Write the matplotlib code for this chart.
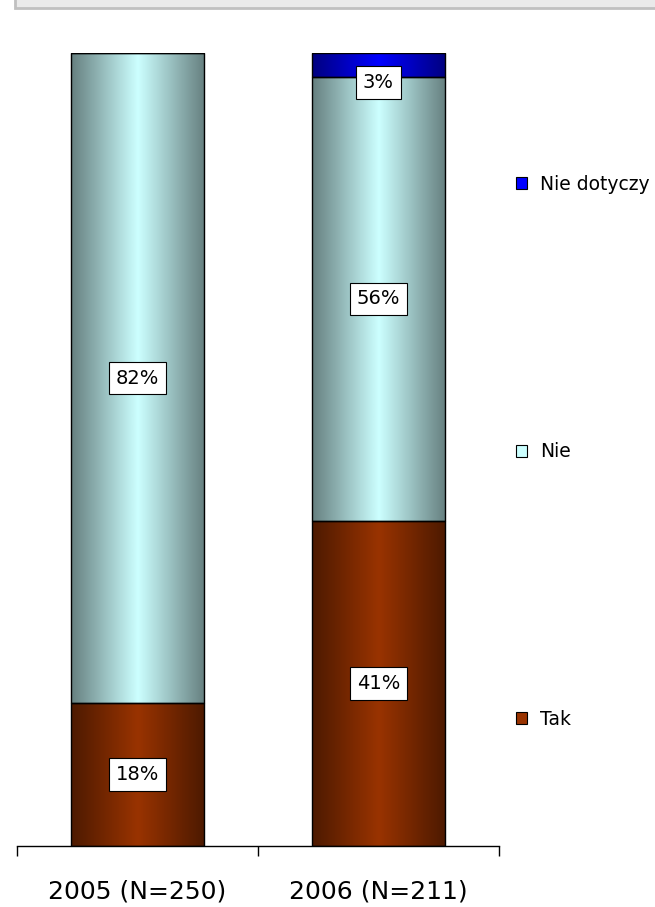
import numpy as np
import matplotlib.pyplot as plt
from matplotlib.patches import Patch, Rectangle
from matplotlib.colors import LinearSegmentedColormap, to_rgb

categories = ['2005 (N=250)', '2006 (N=211)']
series_names = ['Tak', 'Nie', 'Nie dotyczy']
tak = [18, 41]
nie = [82, 56]
nie_dotyczy = [0, 3]
series_values = [tak, nie, nie_dotyczy]
series_colors = ['#993300', '#CCFFFF', '#0000FF']

W, H = 655, 907
fig = plt.figure(figsize=(W / 100, H / 100), dpi=100)
ax = fig.add_axes([17 / W, 61 / H, 482 / W, 793 / H])

# grey header strip across the top
fig.add_artist(Rectangle((15 / W, 899 / H), 1.0, 0.02, transform=fig.transFigure,
                         facecolor='#EAEAEA', edgecolor='#C0C0C0', lw=2))

x = np.arange(len(categories))
bar_w = 0.556
grad = 1 - np.abs(np.linspace(-1, 1, 256))
grad = grad.reshape(1, -1)

bottom = np.zeros(len(categories))
for name, vals, col in zip(series_names, series_values, series_colors):
    vals = np.array(vals, dtype=float)
    base = np.array(to_rgb(col))
    cmap = LinearSegmentedColormap.from_list(name, [base * 0.5, base])
    bars = ax.bar(x, vals, bar_w, bottom=bottom, facecolor='none',
                  edgecolor='black', lw=1, zorder=3)
    for b, v, b0 in zip(bars, vals, bottom):
        if v <= 0:
            continue
        ax.imshow(grad, cmap=cmap, aspect='auto', zorder=2,
                  extent=[b.get_x(), b.get_x() + b.get_width(), b0, b0 + v])
        ly = min(b0 + v / 2, b0 + v - 3.7)
        ax.text(b.get_x() + b.get_width() / 2, ly, f'{v:.0f}%', ha='center',
                va='center', fontsize=14, zorder=5,
                bbox=dict(boxstyle='square,pad=0.35', facecolor='white',
                          edgecolor='black', lw=0.8))
    bottom = bottom + vals

ax.set_xlim(-0.5, len(categories) - 0.5)
ax.set_ylim(0, 100)
ax.set_yticks([])
for s in ['left', 'right', 'top']:
    ax.spines[s].set_visible(False)
ax.spines['bottom'].set_linewidth(1)

ax.set_xticks(np.arange(len(categories) + 1) - 0.5)
ax.set_xticklabels([])
ax.tick_params(axis='x', which='major', length=7.5, width=1, direction='out')
ax.set_xticks(x, minor=True)
ax.set_xticklabels(categories, minor=True, fontsize=18)
ax.tick_params(axis='x', which='minor', length=0, pad=24)

handles = [Patch(facecolor=c, edgecolor='black', lw=0.8, label=n)
           for n, c in zip(series_names, series_colors)][::-1]
fig.legend(handles=handles, loc='upper left', bbox_to_anchor=(516 / W, 1 - 175 / H),
           frameon=False, fontsize=13.5, labelspacing=13.25, handlelength=0.6,
           handleheight=0.6, handletextpad=0.7, borderaxespad=0, borderpad=0)

fig.savefig('out.png', dpi=100)
